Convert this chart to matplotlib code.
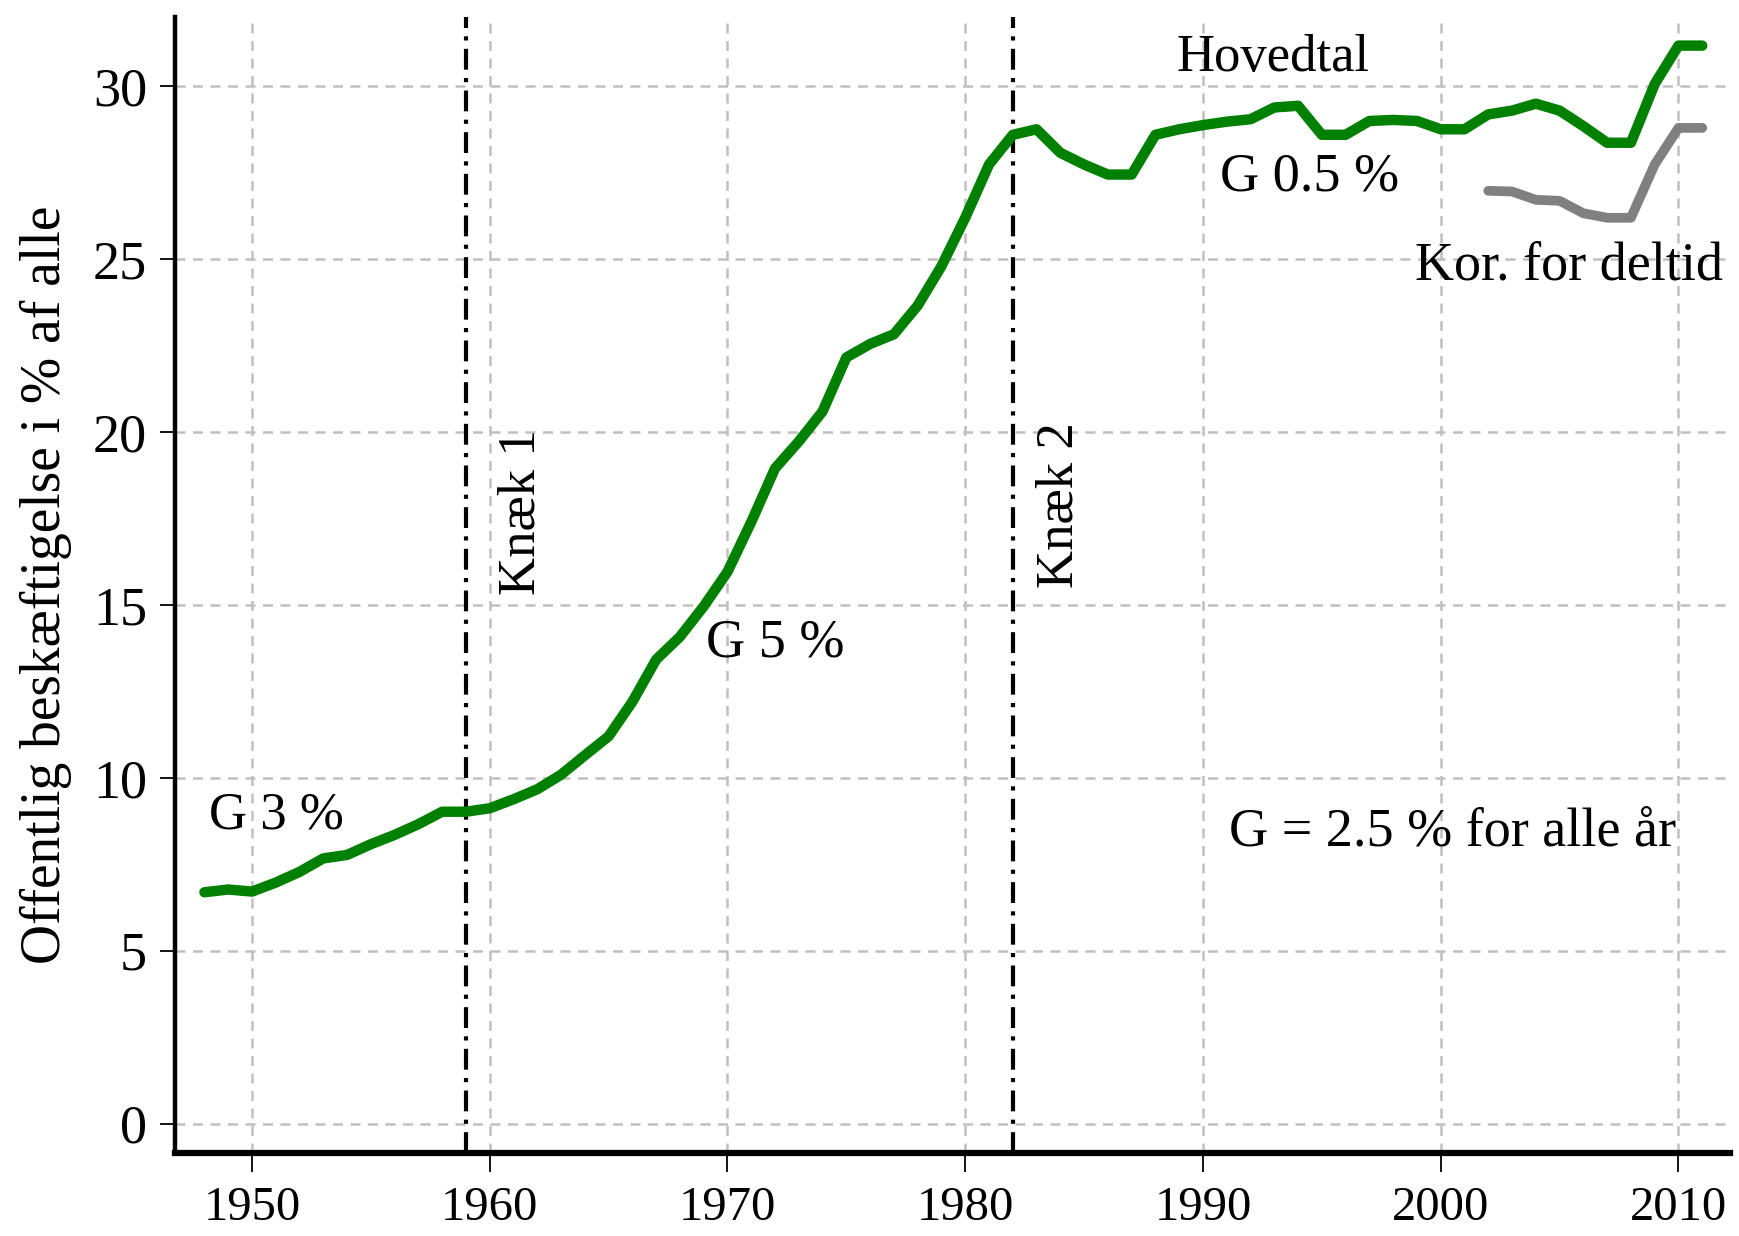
import numpy as np
import matplotlib
matplotlib.use("Agg")
import matplotlib.pyplot as plt

# data
years = np.arange(1948, 2012)
hovedtal = [6.69, 6.77, 6.71, 6.97, 7.28, 7.67, 7.77, 8.08, 8.35, 8.66,
            9.02, 9.02, 9.12, 9.38, 9.67, 10.09, 10.65, 11.2, 12.2, 13.42,
            14.08, 14.96, 15.96, 17.4, 18.95, 19.73, 20.6, 22.16, 22.55, 22.83,
            23.66, 24.8, 26.2, 27.74, 28.6, 28.76, 28.08, 27.74, 27.45, 27.45,
            28.6, 28.76, 28.88, 28.98, 29.05, 29.39, 29.44, 28.6, 28.6, 29.0,
            29.03, 29.0, 28.76, 28.76, 29.19, 29.3, 29.5, 29.3, 28.85, 28.37,
            28.37, 30.07, 31.18, 31.18]
deltid_years = np.arange(2002, 2012)
deltid = [26.98, 26.96, 26.72, 26.69, 26.33, 26.2, 26.2, 27.74, 28.8, 28.8]

knaek_years = [1959, 1982]
knaek_labels = ["Knæk 1", "Knæk 2"]

x_ticks = [1950, 1960, 1970, 1980, 1990, 2000, 2010]
y_ticks = [0, 5, 10, 15, 20, 25, 30]

plt.rcParams['font.family'] = ['Liberation Serif', 'DejaVu Serif']

fig = plt.figure(figsize=(17.39, 12.36), dpi=100)
ax = fig.add_axes([0.1006, 0.0672, 0.8944, 0.9194])

ax.plot(years, hovedtal, color='#008000', lw=7.5, solid_capstyle='round',
        solid_joinstyle='round', zorder=3)
ax.plot(deltid_years, deltid, color='#808080', lw=7, solid_capstyle='round',
        solid_joinstyle='round', zorder=3)

for yr in knaek_years:
    ax.axvline(yr, color='black', lw=3, linestyle=(0, (5, 2, 1, 2)), zorder=2)

ax.set_xlim(1946.76, 2012.18)
ax.set_ylim(-0.85, 32.02)
ax.set_xticks(x_ticks)
ax.set_yticks(y_ticks)
ax.grid(True, color='#c0c0c0', lw=1.8, linestyle=(0, (4, 3)), zorder=0)

for s in ['top', 'right']:
    ax.spines[s].set_visible(False)
ax.spines['left'].set_linewidth(3.2)
ax.spines['bottom'].set_linewidth(4.5)

ax.tick_params(axis='x', length=14, width=1.3, pad=10, labelsize=35)
ax.tick_params(axis='y', length=11, width=1.3, pad=9, labelsize=39)

ax.set_ylabel("Offentlig beskæftigelse i % af alle", fontsize=40)
ax.yaxis.set_label_coords(-0.066, 0.5)

fs = 38
ax.text(1948.2, 8.92, "G 3 %", fontsize=fs, ha='left', va='center')
ax.text(1969.1, 13.89, "G 5 %", fontsize=39, ha='left', va='center')
ax.text(1988.9, 30.83, "Hovedtal", fontsize=fs, ha='left', va='center')
ax.text(1990.7, 27.37, "G 0.5 %", fontsize=39, ha='left', va='center')
ax.text(1998.9, 24.8, "Kor. for deltid", fontsize=39, ha='left', va='center')
ax.text(1991.1, 8.44, "G = 2.5 % for alle år", fontsize=39, ha='left', va='center')
ax.text(1961.34, 17.68, knaek_labels[0], fontsize=fs, rotation=90, ha='center', va='center')
ax.text(1983.97, 17.9, knaek_labels[1], fontsize=fs, rotation=90, ha='center', va='center')

fig.savefig("out.png", dpi=100)
